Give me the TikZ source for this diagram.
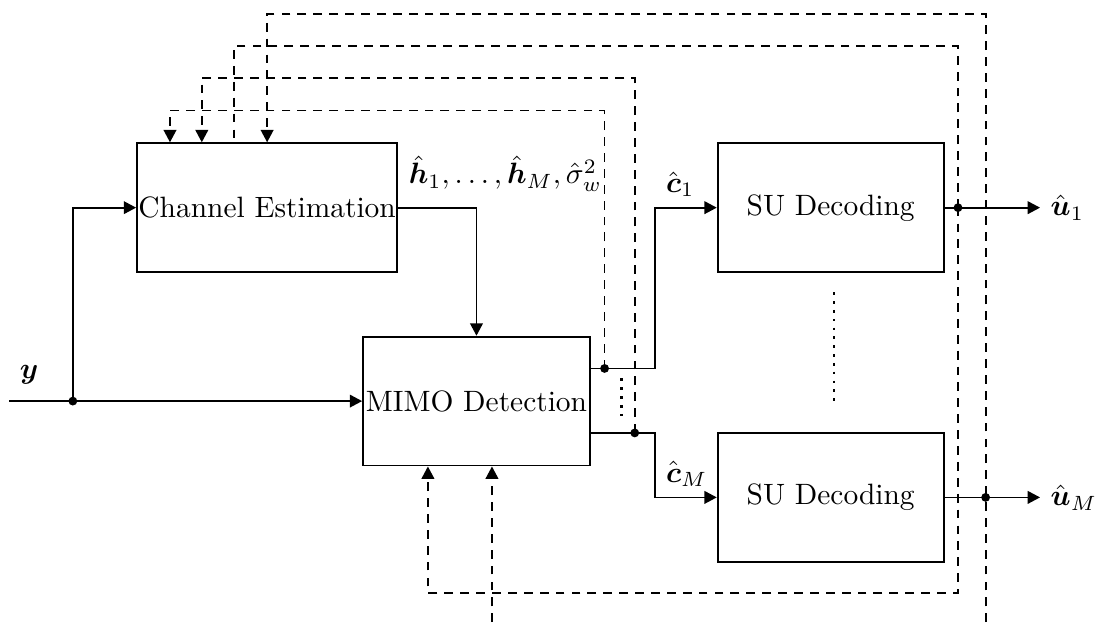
\documentclass[tikz,border=0pt]{standalone}
\usepackage{tikz}
\usetikzlibrary{arrows.meta, positioning, calc}
\usepackage{amsmath, amssymb}

\begin{document}
\begin{tikzpicture}[
  box/.style={draw, line width=0.6pt, minimum height=1.54cm, inner sep=0.5pt, align=center},
  arrow/.style={-{Triangle[length=4.2pt, width=4.3pt]}, line width=0.6pt},
  fb/.style={line width=0.6pt, dash pattern=on 3pt off 2.4pt},
  fbarrow/.style={fb, -{Triangle[length=4.2pt, width=4.3pt]}},
  dots/.style={line width=0.9pt, dash pattern=on 0.9pt off 2.1pt}
]
  \useasboundingbox (-5.69, -2.67) rectangle (7.41, 4.79);

  % Blocks
  \node[box, minimum width=3.08cm] (ce) at (-2.50, 2.31) {Channel Estimation};
  \node[box, minimum width=2.71cm] (mimo) at (0, 0) {MIMO Detection};
  \node[box, minimum width=2.70cm] (su1) at (4.23, 2.31) {SU Decoding};
  \node[box, minimum width=2.70cm] (suM) at (4.23, -1.15) {SU Decoding};

  % Branch points and ends
  \coordinate (yin) at (-5.58, 0);
  \coordinate (ysplit) at (-4.82, 0);
  \coordinate (c1) at (1.53, 0.39);
  \coordinate (cM) at (1.89, -0.38);
  \coordinate (j1) at (5.75, 2.31);
  \coordinate (jM) at (6.08, -1.15);
  \coordinate (u1) at (6.73, 2.31);
  \coordinate (uM) at (6.73, -1.15);

  % Forward path
  \draw[arrow] (yin) -- (mimo.west) node[pos=0, above right, yshift=2pt] {$\boldsymbol{y}$};
  \draw[arrow] (ysplit) |- (ce.west);
  \draw[arrow] (ce.east) -| (mimo.north)
    node[pos=0, above right, yshift=2pt] {$\hat{\boldsymbol{h}}_1, \ldots, \hat{\boldsymbol{h}}_M, \hat{\sigma}_w^2$};
  \draw[arrow] ([yshift=0.39cm]mimo.east) -- ++(0.77, 0) |- (su1.west)
    node[pos=0.5, above right] {$\hat{\boldsymbol{c}}_1$};
  \draw[arrow] ([yshift=-0.38cm]mimo.east) -- ++(0.77, 0) |- (suM.west)
    node[pos=0.5, above right] {$\hat{\boldsymbol{c}}_M$};
  \draw[arrow] (su1.east) -- (u1) node[right] {$\hat{\boldsymbol{u}}_1$};
  \draw[arrow] (suM.east) -- (uM) node[right] {$\hat{\boldsymbol{u}}_M$};

  \foreach \p in {ysplit, c1, cM, j1, jM}
    \fill (\p) circle (1.5pt);

  % Feedback
  \draw[fbarrow] (c1) -- (1.53, 3.47) -| ([xshift=-1.16cm]ce.north);
  \draw[fbarrow] (cM) -- (1.89, 3.86) -| ([xshift=-0.78cm]ce.north);
  \draw[fb] (j1) -- (5.75, 4.24) -| ([xshift=-0.40cm]ce.north);
  \draw[fbarrow] (j1) -- (5.75, -2.29) -| ([xshift=-0.58cm]mimo.south);
  \draw[fbarrow] (6.08, -2.64) -- (6.08, 4.62) -| (ce.north);
  \draw[fbarrow] (0.185, -2.64) -- ([xshift=0.185cm]mimo.south);

  % Dots
  \draw[dots] (1.73, 0.27) -- (1.73, -0.18);
  \draw[dots] ([xshift=0.04cm, yshift=-0.23cm]su1.south) -- ([xshift=0.04cm, yshift=0.30cm]suM.north);
\end{tikzpicture}
\end{document}
